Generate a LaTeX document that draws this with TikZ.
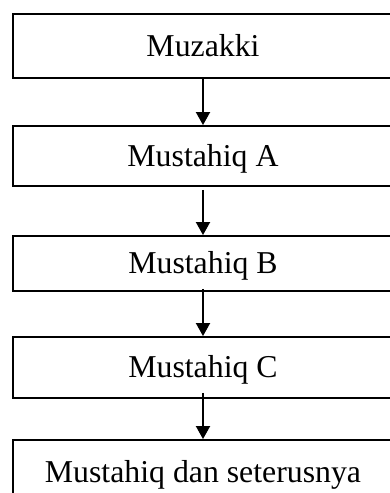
\documentclass[tikz,border=0pt]{standalone}
\usepackage{fontspec}
\setmainfont{Liberation Serif}
\usetikzlibrary{arrows.meta}
\begin{document}
\begin{tikzpicture}[x=1pt,y=-1pt,
  flowbox/.style={draw=black, line width=1.9pt, rectangle, inner sep=0pt,
    minimum width=380pt, text height=24pt, text depth=4pt,
    font=\fontsize{31.8}{38}\selectfont},
  flowarrow/.style={line width=1.9pt, -{Triangle[length=13pt,width=14pt]}}]
\useasboundingbox (0,0) rectangle (390,493);
\clip (0,0) rectangle (390,493);
\node[flowbox, minimum height=64pt] (b1) at (203,46) {Muzakki};
\node[flowbox, minimum height=60pt] (b2) at (203,156) {Mustahiq A};
\node[flowbox, minimum height=55pt] (b3) at (203,263.5) {Mustahiq B};
\node[flowbox, minimum height=61pt] (b4) at (203,367.5) {Mustahiq C};
\node[flowbox, minimum height=64pt] (b5) at (203,472) {Mustahiq dan seterusnya};
\draw[flowarrow] (b1.south) -- (b2.north);
\draw[flowarrow] ([yshift=-3pt]b2.south) -- (b3.north);
\draw[flowarrow] ([yshift=3pt]b3.south) -- (b4.north);
\draw[flowarrow] ([yshift=6pt]b4.south) -- (b5.north);
\end{tikzpicture}
\end{document}
